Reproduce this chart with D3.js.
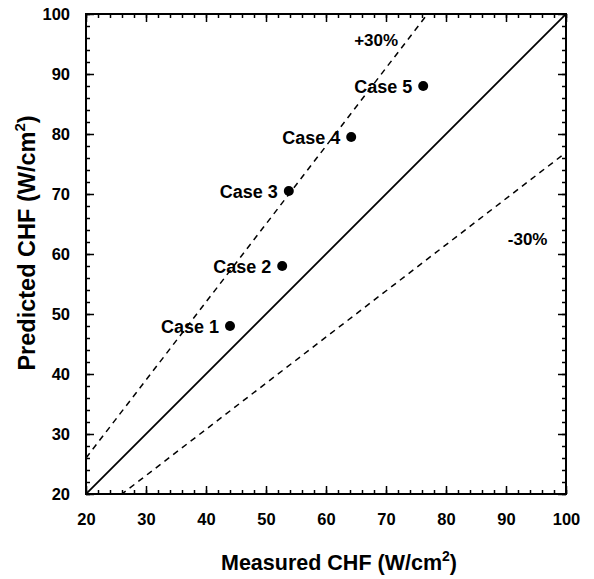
<!DOCTYPE html>
<html>
<head>
  <script src="https://d3js.org/d3.v7.min.js"></script>
  <style>
    body { margin: 0; background: #fff; }
    text { font-family: "Liberation Sans", Arial, sans-serif; font-weight: bold; fill: #000; }
  </style>
</head>
<body>
  <svg id="chart" width="594" height="579"></svg>
  <script>
    // Data
    const cases = ["Case 1", "Case 2", "Case 3", "Case 4", "Case 5"];
    const measured = [44, 52.7, 53.8, 64.2, 76.2];
    const predicted = [48, 58, 70.5, 79.5, 88];
    const tickValues = [20, 30, 40, 50, 60, 70, 80, 90, 100];
    const bandFactor = 1.3;

    const svg = d3.select("#chart");
    const margin = { top: 14, right: 28, bottom: 85, left: 86 };
    const width = 480, height = 480;

    const x = d3.scaleLinear().domain([20, 100]).range([0, width]);
    const y = d3.scaleLinear().domain([20, 100]).range([height, 0]);

    const g = svg.append("g")
      .attr("transform", `translate(${margin.left},${margin.top})`);

    // clip for the lines
    svg.append("defs").append("clipPath").attr("id", "clip")
      .append("rect").attr("width", width).attr("height", height);

    const lines = g.append("g").attr("clip-path", "url(#clip)");
    const line = d3.line().x(d => x(d[0])).y(d => y(d[1]));

    // 1:1 line
    lines.append("path")
      .datum([[20, 20], [100, 100]])
      .attr("d", line)
      .attr("fill", "none").attr("stroke", "#000").attr("stroke-width", 1.8);

    // +30% and -30% lines
    lines.append("path")
      .datum([[20, 20 * bandFactor], [100, 100 * bandFactor]])
      .attr("d", line)
      .attr("fill", "none").attr("stroke", "#000").attr("stroke-width", 1.5)
      .attr("stroke-dasharray", "6,5");
    lines.append("path")
      .datum([[20, 20 / bandFactor], [100, 100 / bandFactor]])
      .attr("d", line)
      .attr("fill", "none").attr("stroke", "#000").attr("stroke-width", 1.5)
      .attr("stroke-dasharray", "6,5");

    // Axes with inward ticks on all sides
    const minor = d3.range(20, 101, 2);
    function addAxis(axisGen, transform, major) {
      const a = g.append("g").attr("transform", transform);
      a.call(axisGen(major ? tickValues : minor));
      a.select(".domain").remove();
      a.selectAll("line").attr("stroke", "#000").attr("stroke-width", 1.5);
      if (!major) a.selectAll("text").remove();
      return a;
    }
    // minor
    addAxis(v => d3.axisBottom(x).tickValues(v).tickSize(-4), `translate(0,${height})`, false);
    addAxis(v => d3.axisTop(x).tickValues(v).tickSize(-4), "translate(0,0)", false);
    addAxis(v => d3.axisLeft(y).tickValues(v).tickSize(-4), "translate(0,0)", false);
    addAxis(v => d3.axisRight(y).tickValues(v).tickSize(-4), `translate(${width},0)`, false);
    // major
    const xb = addAxis(v => d3.axisBottom(x).tickValues(v).tickSize(-8).tickPadding(19), `translate(0,${height})`, true);
    xb.selectAll("text").attr("font-size", 16.5).attr("dy", "0.71em");
    const yl = addAxis(v => d3.axisLeft(y).tickValues(v).tickSize(-8).tickPadding(16), "translate(0,0)", true);
    yl.selectAll("text").attr("font-size", 16.5);
    const xt = addAxis(v => d3.axisTop(x).tickValues(v).tickSize(-8), "translate(0,0)", true);
    xt.selectAll("text").remove();
    const yr = addAxis(v => d3.axisRight(y).tickValues(v).tickSize(-8), `translate(${width},0)`, true);
    yr.selectAll("text").remove();

    // frame
    g.append("rect").attr("width", width).attr("height", height)
      .attr("fill", "none").attr("stroke", "#000").attr("stroke-width", 2);

    // points
    const pts = cases.map((c, i) => ({ name: c, mx: measured[i], py: predicted[i] }));
    g.selectAll("circle.pt").data(pts).enter().append("circle")
      .attr("class", "pt")
      .attr("cx", d => x(d.mx)).attr("cy", d => y(d.py)).attr("r", 5)
      .attr("fill", "#000");
    g.selectAll("text.lbl").data(pts).enter().append("text")
      .attr("class", "lbl")
      .attr("x", d => x(d.mx) - 11).attr("y", d => y(d.py) + 6.5)
      .attr("text-anchor", "end").attr("font-size", 18)
      .text(d => d.name);

    // band labels
    g.append("text").attr("x", x(64.7)).attr("y", y(94.7))
      .attr("font-size", 17).text("+30%");
    g.append("text").attr("x", x(90.3)).attr("y", y(61.5))
      .attr("font-size", 17).text("-30%");

    // axis titles
    const xTitle = svg.append("text")
      .attr("x", 339).attr("y", 570)
      .attr("text-anchor", "middle").attr("font-size", 21.5);
    xTitle.append("tspan").text("Measured CHF (W/cm");
    xTitle.append("tspan").attr("font-size", 14).attr("dy", -9).text("2");
    xTitle.append("tspan").attr("dy", 9).text(")");

    const yTitle = svg.append("text")
      .attr("transform", `translate(35,243) rotate(-90)`)
      .attr("text-anchor", "middle").attr("font-size", 23.5);
    yTitle.append("tspan").text("Predicted CHF (W/cm");
    yTitle.append("tspan").attr("font-size", 15).attr("dy", -10).text("2");
    yTitle.append("tspan").attr("dy", 10).text(")");
  </script>
</body>
</html>
